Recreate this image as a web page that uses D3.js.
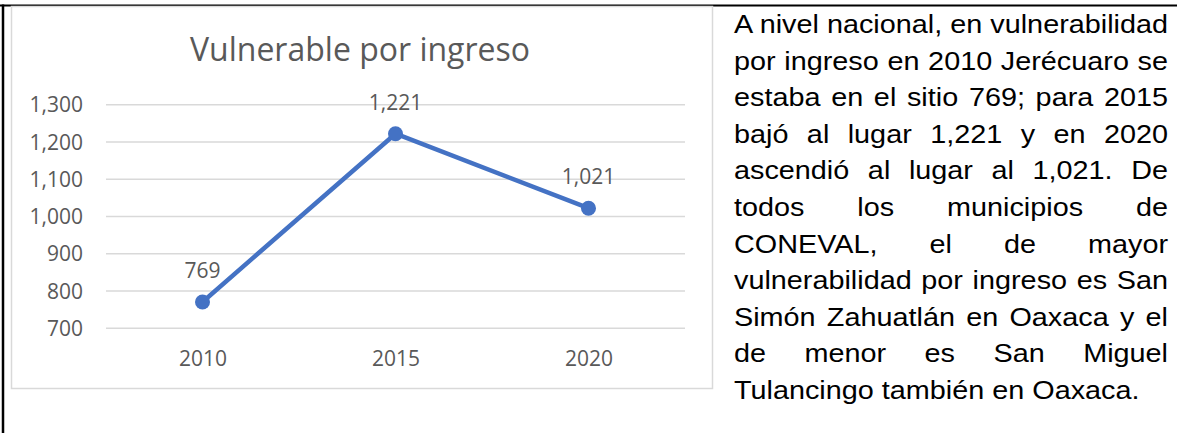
<!DOCTYPE html>
<html>
<head>
<meta charset="utf-8">
<script src="https://cdn.jsdelivr.net/npm/d3@7/dist/d3.min.js"></script>
<style>
  body { margin: 0; background: #fff; }
  svg { display: block; }
</style>
</head>
<body>
<svg width="1177" height="433"></svg>
<script>
// chart data
years = ["2010", "2015", "2020"];
ranks = [769, 1221, 1021];
yTicks = [700, 800, 900, 1000, 1100, 1200, 1300];
chartTitle = "Vulnerable por ingreso";

// text beside the chart, one entry per printed line
noteLines = [
  "A nivel nacional, en vulnerabilidad",
  "por ingreso en 2010 Jerécuaro se",
  "estaba en el sitio 769; para 2015",
  "bajó al lugar 1,221 y en 2020",
  "ascendió al lugar al 1,021. De",
  "todos los municipios de",
  "CONEVAL, el de mayor",
  "vulnerabilidad por ingreso es San",
  "Simón Zahuatlán en Oaxaca y el",
  "de menor es San Miguel",
  "Tulancingo también en Oaxaca."
];

svg = d3.select("svg");
fmt = d3.format(",");
grey = "#595959";
blue = "#4472C4";

// page frame (black rule top and left)
svg.append("line")
  .attr("x1", 0).attr("x2", 1177).attr("y1", 5.5).attr("y2", 5.5)
  .attr("stroke", "#000").attr("stroke-width", 2);
svg.append("line")
  .attr("x1", 3).attr("x2", 3).attr("y1", 4.5).attr("y2", 433)
  .attr("stroke", "#000").attr("stroke-width", 2.5);

// chart box
svg.append("rect")
  .attr("x", 11.5).attr("y", 6.5).attr("width", 701).attr("height", 382)
  .attr("fill", "#fff").attr("stroke", "#d9d9d9").attr("stroke-width", 1.5);

svg.append("text")
  .attr("x", 360).attr("y", 61)
  .attr("text-anchor", "middle")
  .attr("font-family", "Open Sans")
  .attr("font-size", 32)
  .attr("fill", grey)
  .text(chartTitle);

xScale = d3.scalePoint() // one slot per year
  .domain(years)
  .range([106, 685])
  .padding(0.5);

yScale = d3.scaleLinear()
  .domain([700, 1300])
  .range([327.7, 104.3]);

g = svg.append("g");

// horizontal gridlines + left labels
yAxis = g.append("g")
  .attr("transform", "translate(106,0)")
  .call(d3.axisLeft(yScale).tickValues(yTicks).tickFormat(fmt)
    .tickSize(-579).tickPadding(23));
yAxis.select(".domain").remove();
yAxis.selectAll(".tick line").attr("stroke", "#d9d9d9").attr("stroke-width", 1.4);
yAxis.selectAll(".tick text")
  .attr("font-family", "Open Sans").attr("font-size", 21)
  .attr("fill", grey).attr("dy", "0.36em");

xAxis = g.append("g")
  .attr("transform", "translate(0,327.7)")
  .call(d3.axisBottom(xScale).tickSize(0).tickPadding(0));
xAxis.select(".domain").remove();
xAxis.selectAll(".tick text")
  .attr("font-family", "Open Sans").attr("font-size", 21)
  .attr("fill", grey).attr("dy", 0).attr("y", 38);

pts = years.map(function(d, i) { return {year: d, rank: ranks[i]}; });

line = d3.line()
  .x(function(d) { return xScale(d.year); })
  .y(function(d) { return yScale(d.rank); });

g.append("path")
  .datum(pts)
  .attr("d", line)
  .attr("fill", "none")
  .attr("stroke", blue)
  .attr("stroke-width", 4.5)
  .attr("stroke-linejoin", "round");

g.selectAll("circle")
  .data(pts)
  .enter()
  .append("circle")
  .attr("cx", function(d) { return xScale(d.year); })
  .attr("cy", function(d) { return yScale(d.rank); })
  .attr("r", 7.5)
  .attr("fill", blue);

g.selectAll(".lbl")
  .data(pts)
  .enter()
  .append("text")
  .attr("class", "lbl")
  .attr("x", function(d) { return xScale(d.year); })
  .attr("y", function(d) { return yScale(d.rank) - 24; })
  .attr("text-anchor", "middle")
  .attr("font-family", "Open Sans").attr("font-size", 21)
  .attr("fill", grey)
  .text(function(d) { return fmt(d.rank); });

// justified paragraph on the right (source text is a bit wide, so stretch it)
left = 734; right = 1168; sx = 1.13;
noteLines.forEach(function(s, i) {
  t = svg.append("text")
    .attr("transform", "translate(" + left + "," + (33 + i * 36.6) + ") scale(" + sx + ",1)")
    .attr("font-family", "Liberation Sans, Arial")
    .attr("font-size", 25.5)
    .attr("fill", "#000")
    .text(s);
  if (i < noteLines.length - 1) {
    gaps = s.split(" ").length - 1;
    w = t.node().getComputedTextLength();
    t.attr("word-spacing", ((right - left) / sx - w) / gaps);
  }
});
</script>
</body>
</html>
